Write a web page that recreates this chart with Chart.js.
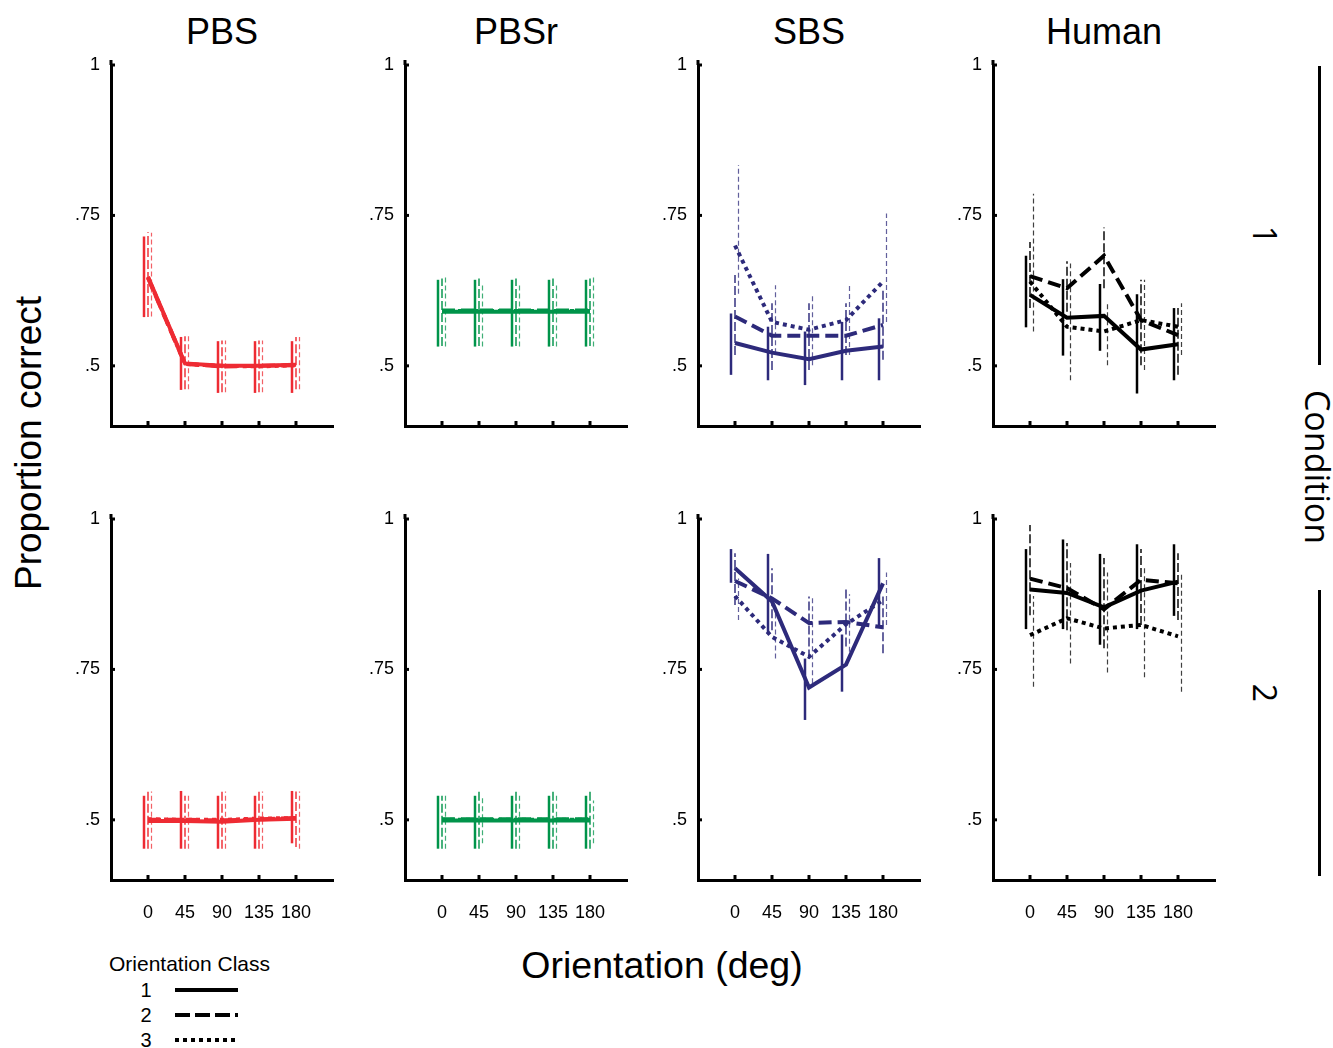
<!DOCTYPE html>
<html>
<head>
<meta charset="utf-8">
<script src="https://cdn.jsdelivr.net/npm/chart.js@4.4.0/dist/chart.umd.min.js"></script>
<style>
  body { margin: 0; background: #fff; }
  #page { position: relative; width: 1333px; height: 1048px; overflow: hidden; font-family: "Liberation Sans", Arial, sans-serif; color: #000; }
  .panel { position: absolute; }
  .txt { position: absolute; transform: translate(-50%, -50%); white-space: nowrap; line-height: 1; }
  .vline { position: absolute; width: 3px; background: #000; }
</style>
</head>
<body>
<div id="page"></div>
<script>
// ===============================
// DATA
// ===============================

const orientations = [0, 45, 90, 135, 180];
const yTickValues = [0.5, 0.75, 1];
const panelTitles = ["PBS", "PBSr", "SBS", "Human"];
const conditions = ["1", "2"];
const classLabels = ["1", "2", "3"];

// each array: [class 1, class 2, class 3] x orientations

// PBS, condition 1
const pbs1Mean = [[0.648, 0.504, 0.500, 0.500, 0.502], [0.646, 0.503, 0.499, 0.500, 0.501], [0.647, 0.503, 0.500, 0.499, 0.501]];
const pbs1Lo = [[0.581, 0.460, 0.455, 0.455, 0.455], [0.581, 0.461, 0.456, 0.456, 0.461], [0.582, 0.461, 0.456, 0.456, 0.461]];
const pbs1Hi = [[0.715, 0.548, 0.541, 0.541, 0.541], [0.722, 0.549, 0.542, 0.542, 0.548], [0.721, 0.549, 0.542, 0.542, 0.548]];

// PBSr, condition 1
const pbsr1Mean = [[0.590, 0.590, 0.590, 0.590, 0.590], [0.592, 0.592, 0.592, 0.592, 0.592], [0.591, 0.591, 0.591, 0.591, 0.591]];
const pbsr1Lo = [[0.532, 0.532, 0.532, 0.532, 0.532], [0.533, 0.533, 0.533, 0.533, 0.533], [0.532, 0.532, 0.532, 0.532, 0.532]];
const pbsr1Hi = [[0.643, 0.643, 0.643, 0.643, 0.643], [0.645, 0.645, 0.645, 0.645, 0.645], [0.651, 0.638, 0.638, 0.638, 0.651]];

// SBS, condition 1
const sbs1Mean = [[0.538, 0.522, 0.511, 0.525, 0.532], [0.582, 0.550, 0.550, 0.550, 0.568], [0.700, 0.573, 0.560, 0.576, 0.640]];
const sbs1Lo = [[0.485, 0.476, 0.468, 0.476, 0.476], [0.518, 0.493, 0.493, 0.518, 0.510], [0.620, 0.521, 0.501, 0.518, 0.573]];
const sbs1Hi = [[0.587, 0.565, 0.557, 0.573, 0.579], [0.651, 0.604, 0.604, 0.604, 0.626], [0.834, 0.634, 0.619, 0.634, 0.753]];

// Human, condition 1
const human1Mean = [[0.618, 0.580, 0.583, 0.527, 0.536], [0.649, 0.629, 0.683, 0.576, 0.551], [0.640, 0.565, 0.557, 0.576, 0.565]];
const human1Lo = [[0.564, 0.517, 0.525, 0.454, 0.476], [0.596, 0.590, 0.629, 0.501, 0.485], [0.557, 0.476, 0.501, 0.493, 0.518]];
const human1Hi = [[0.683, 0.644, 0.636, 0.619, 0.596], [0.706, 0.674, 0.730, 0.643, 0.596], [0.786, 0.670, 0.604, 0.643, 0.604]];

// PBS, condition 2
const pbs2Mean = [[0.498, 0.498, 0.497, 0.500, 0.502], [0.500, 0.500, 0.499, 0.501, 0.503], [0.501, 0.500, 0.500, 0.502, 0.503]];
const pbs2Lo = [[0.452, 0.452, 0.452, 0.452, 0.461], [0.452, 0.452, 0.452, 0.452, 0.455], [0.452, 0.452, 0.452, 0.452, 0.452]];
const pbs2Hi = [[0.540, 0.548, 0.540, 0.540, 0.548], [0.547, 0.540, 0.547, 0.547, 0.547], [0.547, 0.540, 0.547, 0.547, 0.547]];

// PBSr, condition 2
const pbsr2Mean = [[0.499, 0.499, 0.499, 0.499, 0.499], [0.501, 0.501, 0.501, 0.501, 0.501], [0.500, 0.500, 0.500, 0.500, 0.500]];
const pbsr2Lo = [[0.452, 0.452, 0.452, 0.452, 0.452], [0.452, 0.452, 0.452, 0.452, 0.452], [0.452, 0.461, 0.452, 0.452, 0.461]];
const pbsr2Hi = [[0.540, 0.540, 0.540, 0.540, 0.540], [0.540, 0.548, 0.548, 0.548, 0.548], [0.540, 0.540, 0.540, 0.540, 0.532]];

// SBS, condition 2
const sbs2Mean = [[0.918, 0.863, 0.720, 0.758, 0.893], [0.897, 0.868, 0.827, 0.829, 0.820], [0.872, 0.804, 0.771, 0.825, 0.865]];
const sbs2Lo = [[0.894, 0.809, 0.666, 0.713, 0.821], [0.857, 0.815, 0.768, 0.788, 0.777], [0.832, 0.768, 0.727, 0.766, 0.824]];
const sbs2Hi = [[0.950, 0.942, 0.768, 0.808, 0.935], [0.943, 0.918, 0.871, 0.887, 0.871], [0.901, 0.846, 0.871, 0.875, 0.911]];

// Human, condition 2
const human2Mean = [[0.883, 0.877, 0.853, 0.881, 0.896], [0.901, 0.885, 0.850, 0.899, 0.893], [0.807, 0.835, 0.818, 0.824, 0.805]];
const human2Lo = [[0.817, 0.817, 0.791, 0.817, 0.839], [0.840, 0.815, 0.785, 0.824, 0.832], [0.721, 0.760, 0.745, 0.737, 0.713]];
const human2Hi = [[0.950, 0.966, 0.942, 0.958, 0.958], [0.990, 0.960, 0.935, 0.950, 0.943], [0.872, 0.927, 0.911, 0.918, 0.911]];

const panelColors = ["#ee2b33", "#00944a", "#2d2a7b", "#000000"];

// ===============================
// LAYOUT / STYLE
// ===============================

const colAxisX = [111, 405, 698, 993];
const rowTopY = [65, 519];
const plotW = 222, plotH = 361;
const padLeft = 60, padTop = 12, padRight = 12, padBottom = 45;

const lineDashes = [[], [13, 6], [4, 4]];
const barOffsets = [-4, 0, 3.5];
const barWidths = [2.5, 1.6, 1.2];
const barDashes = [[], [9, 3], [5, 3]];
const barAlpha = [1, 0.9, 0.75];

const page = document.getElementById("page");

function addText(str, x, y, size, extra) {
  const d = document.createElement("div");
  d.className = "txt";
  d.textContent = str;
  d.style.left = x + "px";
  d.style.top = y + "px";
  d.style.fontSize = size + "px";
  if (extra) Object.assign(d.style, extra);
  page.appendChild(d);
  return d;
}

function errorBarPlugin(lo, hi, color) {
  return {
    id: "errorBars",
    beforeDatasetsDraw(chart) {
      const ctx = chart.ctx, xs = chart.scales.x, ys = chart.scales.y;
      ctx.save();
      ctx.strokeStyle = color;
      for (let s = 0; s < 3; s++) {
        ctx.lineWidth = barWidths[s];
        ctx.setLineDash(barDashes[s]);
        ctx.globalAlpha = barAlpha[s];
        orientations.forEach((o, j) => {
          const x = xs.getPixelForValue(o) + barOffsets[s];
          ctx.beginPath();
          ctx.moveTo(x, ys.getPixelForValue(lo[s][j]));
          ctx.lineTo(x, ys.getPixelForValue(hi[s][j]));
          ctx.stroke();
        });
      }
      ctx.restore();
    }
  };
}

// little inward tick marks
const innerTicks = {
  id: "innerTicks",
  afterDraw(chart) {
    const ctx = chart.ctx, xs = chart.scales.x, ys = chart.scales.y, a = chart.chartArea;
    ctx.save();
    ctx.strokeStyle = "#000";
    ctx.lineWidth = 3;
    xs.ticks.forEach(t => {
      const x = xs.getPixelForValue(t.value);
      ctx.beginPath(); ctx.moveTo(x, a.bottom); ctx.lineTo(x, a.bottom - 5); ctx.stroke();
    });
    ys.ticks.forEach(t => {
      const y = ys.getPixelForValue(t.value);
      ctx.beginPath(); ctx.moveTo(a.left, y); ctx.lineTo(a.left + 4, y); ctx.stroke();
    });
    // axis runs a little past the top value
    ctx.beginPath(); ctx.moveTo(a.left, a.top); ctx.lineTo(a.left, a.top - 5); ctx.stroke();
    ctx.restore();
  }
};

function yLabel(v) {
  if (v === 1) return "1";
  return String(v).replace(/^0/, "");
}

function noPad(s) {
  s.paddingTop = 0; s.paddingBottom = 0; s.paddingLeft = 0; s.paddingRight = 0;
}

function makePanel(row, col, mean, lo, hi) {
  const color = panelColors[col];
  const wrap = document.createElement("div");
  wrap.className = "panel";
  const w = padLeft + plotW + padRight, h = padTop + plotH + padBottom;
  wrap.style.left = (colAxisX[col] - padLeft) + "px";
  wrap.style.top = (rowTopY[row] - padTop) + "px";
  wrap.style.width = w + "px";
  wrap.style.height = h + "px";
  const canvas = document.createElement("canvas");
  canvas.width = w; canvas.height = h;
  wrap.appendChild(canvas);
  page.appendChild(wrap);

  new Chart(canvas, {
    type: "line",
    data: {
      datasets: mean.map((series, s) => ({
        label: "Class " + classLabels[s],
        data: orientations.map((o, j) => ({ x: o, y: series[j] })),
        borderColor: color,
        borderWidth: 4,
        borderDash: lineDashes[s],
        borderCapStyle: "butt",
        borderJoinStyle: "miter",
        pointRadius: 0,
        tension: 0,
        fill: false
      }))
    },
    options: {
      responsive: false,
      animation: false,
      events: [],
      layout: { padding: { top: padTop, right: padRight, left: 0, bottom: 0 } },
      plugins: { legend: { display: false }, tooltip: { enabled: false } },
      scales: {
        x: {
          type: "linear",
          min: -45, max: 225,
          afterBuildTicks: s => { s.ticks = orientations.map(v => ({ value: v })); },
          afterFit: s => { s.height = padBottom; noPad(s); },
          grid: { display: false, drawTicks: false },
          border: { color: "#000", width: 3 },
          ticks: {
            display: row === 1,
            color: "#000",
            padding: 22,
            maxRotation: 0,
            autoSkip: false,
            font: { family: "Liberation Sans", size: 18 }
          }
        },
        y: {
          min: 0.4, max: 1,
          afterBuildTicks: s => { s.ticks = yTickValues.map(v => ({ value: v })); },
          afterFit: s => { s.width = padLeft; noPad(s); },
          grid: { display: false, drawTicks: false },
          border: { color: "#000", width: 3 },
          ticks: {
            color: "#000",
            padding: 11,
            callback: v => yLabel(v),
            font: { family: "Liberation Sans", size: 18 }
          }
        }
      }
    },
    plugins: [errorBarPlugin(lo, hi, color), innerTicks]
  });
}

const panelSets = [
  [[pbs1Mean, pbs1Lo, pbs1Hi], [pbsr1Mean, pbsr1Lo, pbsr1Hi], [sbs1Mean, sbs1Lo, sbs1Hi], [human1Mean, human1Lo, human1Hi]],
  [[pbs2Mean, pbs2Lo, pbs2Hi], [pbsr2Mean, pbsr2Lo, pbsr2Hi], [sbs2Mean, sbs2Lo, sbs2Hi], [human2Mean, human2Lo, human2Hi]]
];

panelSets.forEach((rowSets, r) => rowSets.forEach((p, c) => makePanel(r, c, p[0], p[1], p[2])));

// ===============================
// TEXT
// ===============================

panelTitles.forEach((t, c) => addText(t, colAxisX[c] + plotW / 2, 32, 36));
addText("Proportion correct", 28, 443, 37, { transform: "translate(-50%, -50%) rotate(-90deg)" });
addText("Orientation (deg)", 662, 966, 37.5);

// condition side labels
const sideFont = { fontFamily: "'Open Sans', sans-serif", transform: "translate(-50%, -50%) rotate(90deg)" };
addText("Condition", 1318, 467, 34, sideFont);
addText(conditions[0], 1265, 235, 32, sideFont);
addText(conditions[1], 1265, 693, 32, sideFont);
[[66, 365], [590, 876]].forEach(([a, b]) => {
  const l = document.createElement("div");
  l.className = "vline";
  l.style.left = "1318px";
  l.style.top = a + "px";
  l.style.height = (b - a) + "px";
  page.appendChild(l);
});

// legend
addText("Orientation Class", 189.5, 963, 21);
const legCanvas = document.createElement("canvas");
legCanvas.width = 80; legCanvas.height = 70;
legCanvas.style.position = "absolute";
legCanvas.style.left = "170px";
legCanvas.style.top = "978px";
page.appendChild(legCanvas);
const lctx = legCanvas.getContext("2d");
lctx.strokeStyle = "#000";
lctx.lineWidth = 4;
classLabels.forEach((lab, i) => {
  const y = 12 + i * 25;
  addText(lab, 146, 990 + i * 25, 20);
  lctx.setLineDash(lineDashes[i].length ? (i === 1 ? [15, 5] : [4, 4]) : []);
  lctx.beginPath();
  lctx.moveTo(5, y);
  lctx.lineTo(68, y);
  lctx.stroke();
});
</script>
</body>
</html>
